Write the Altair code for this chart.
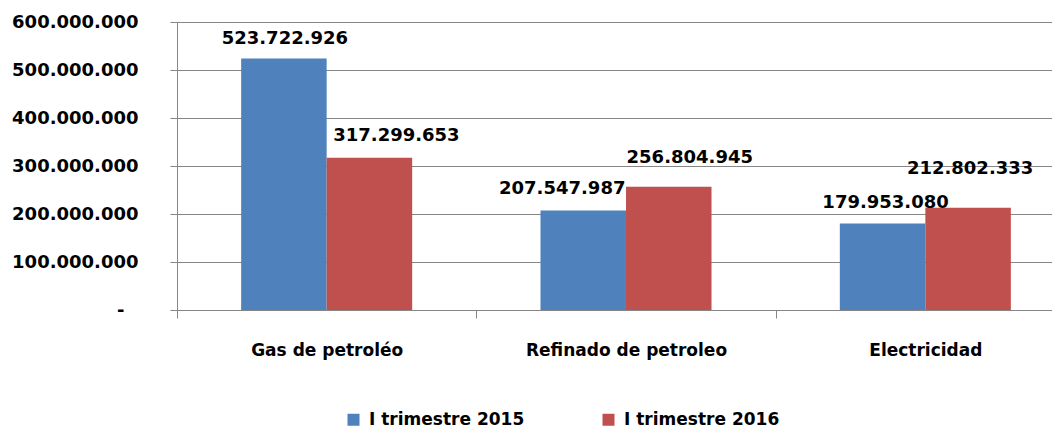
import altair as alt
import pandas as pd

categories = ["Gas de petroléo", "Refinado de petroleo", "Electricidad"]
series = ["I trimestre 2015", "I trimestre 2016"]
values_2015 = [523722926, 207547987, 179953080]
values_2016 = [317299653, 256804945, 212802333]
y_ticks = [0, 100000000, 200000000, 300000000, 400000000, 500000000, 600000000]
colors = ["#4F81BD", "#C0504D"]

rows = []
for c, v1, v2 in zip(categories, values_2015, values_2016):
    rows.append({"cat": c, "serie": series[0], "valor": v1})
    rows.append({"cat": c, "serie": series[1], "valor": v2})
df = pd.DataFrame(rows)

FONT = "DejaVu Sans"
FS = 17
NFS = 18

x = alt.X("cat:N", sort=categories, title=None,
          scale=alt.Scale(range=[0, 898], paddingInner=0, paddingOuter=0),
          axis=alt.Axis(labelAngle=0, labelFont=FONT, labelFontSize=FS, labelFontWeight="bold",
                        labelColor="#000000", labelPadding=24, labelLimit=400, tickSize=8,
                        tickBand="extent", domainColor="#868686", tickColor="#868686", grid=False))
xoff = alt.XOffset("serie:N", sort=series, scale=alt.Scale(paddingOuter=0.75, paddingInner=0))
y = alt.Y("valor:Q", title=None,
          scale=alt.Scale(domain=[0, 600000000], nice=False),
          axis=alt.Axis(values=y_ticks, format=",d",
                        labelExpr="datum.value == 0 ? '-\u2800' : datum.label",
                        labelFont=FONT, labelFontSize=NFS, labelFontWeight="bold", labelColor="#000000",
                        labelPadding=32, tickSize=7, tickColor="#868686", domainColor="#868686",
                        gridColor="#868686", gridWidth=1))

bars = alt.Chart(df).mark_bar(size=85.5).encode(
    x=x, xOffset=xoff, y=y,
    color=alt.Color("serie:N", sort=series, scale=alt.Scale(domain=series, range=colors),
                    legend=alt.Legend(title=None, orient="none", legendX=168, legendY=389,
                                      direction="horizontal", symbolType="square", symbolSize=144,
                                      symbolStrokeWidth=0, labelFont=FONT, labelFontSize=FS,
                                      labelFontWeight="bold", labelColor="#000000", labelLimit=400,
                                      columnPadding=75, labelOffset=7)),
)

# label nudges (Excel moved some data labels by hand): (category, series) -> (dx, dy)
nudges = {
    (0, 0): (1, -15), (0, 1): (27, -17),
    (1, 0): (-21, -16), (1, 1): (21, -24),
    (2, 0): (3, -16), (2, 1): (2, -34),
}

label_layers = []
for (ci, si), (ddx, ddy) in nudges.items():
    sub = df[(df["cat"] == categories[ci]) & (df["serie"] == series[si])]
    label_layers.append(
        alt.Chart(sub).mark_text(font=FONT, fontSize=NFS, fontWeight="bold", color="#000000",
                                 baseline="alphabetic", dx=ddx, dy=ddy).encode(
            x=alt.X("cat:N", sort=categories),
            xOffset=alt.XOffset("serie:N", sort=series),
            y=alt.Y("valor:Q"),
            text=alt.Text("valor:Q", format=",d"),
        )
    )

chart = alt.layer(bars, *label_layers).properties(
    width=875, height=288,
    autosize=alt.AutoSizeParams(type="none"),
    padding={"left": 169, "top": 14, "right": 0, "bottom": 121},
).configure(
    locale={"number": {"decimal": ",", "thousands": ".", "grouping": [3], "currency": ["", ""]}}
).configure_view(stroke=None)

chart.save("out.html", embed_options={"renderer": "svg", "actions": False})
